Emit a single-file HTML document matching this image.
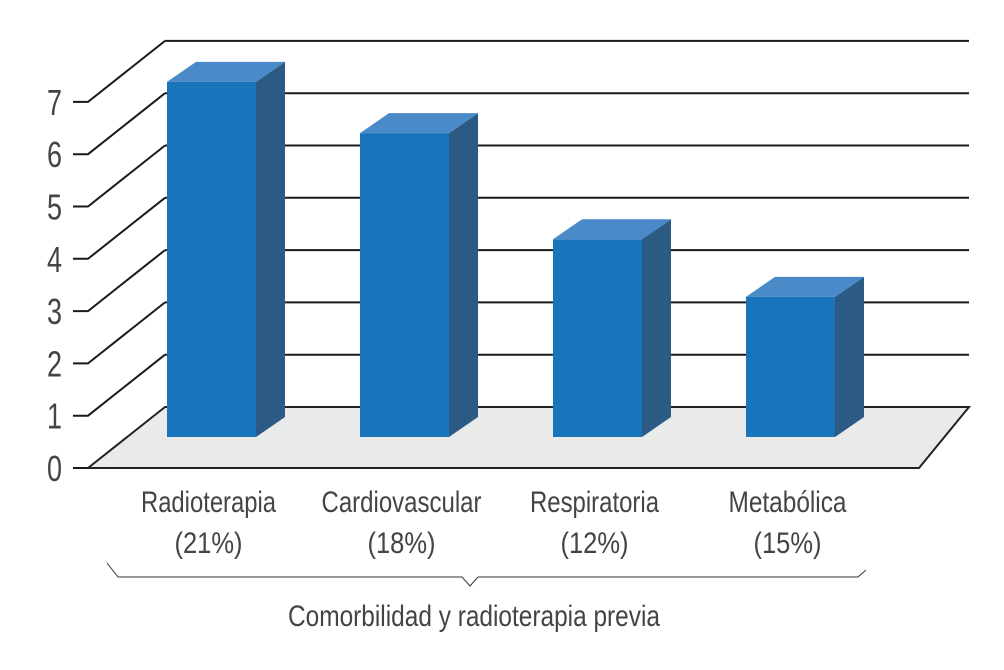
<!DOCTYPE html>
<html><head><meta charset="utf-8">
<style>
html,body{margin:0;padding:0;background:#fff;}
svg{display:block;}
text{font-family:"Liberation Sans Narrow","Liberation Sans",sans-serif;fill:#444;}
</style></head>
<body>
<svg id="chart" width="1004" height="670" viewBox="0 0 1004 670" xmlns="http://www.w3.org/2000/svg">
  <g id="floor"></g>
  <g id="grid"></g>
  <g id="ticks"></g>
  <g id="bars"></g>
  <g id="labels"></g>
  <path d="M107,563 L118,577 L462,577 L470,586 L478,577 L858,577 L866,570" fill="none" stroke="#333" stroke-width="1"/>
  <text x="474" y="626" text-anchor="middle" font-size="30" textLength="372" lengthAdjust="spacingAndGlyphs">Comorbilidad y radioterapia previa</text>
</svg>
<script>
const categories = ["Radioterapia", "Cardiovascular", "Respiratoria", "Metabólica"];
const percents = ["(21%)", "(18%)", "(12%)", "(15%)"];
const values = [6.79, 5.81, 3.78, 2.68];
const tickLabels = ["0","1","2","3","4","5","6","7"];

const NS = "http://www.w3.org/2000/svg";
const unit = 52.3;
const backZero = 407, frontZero = 468, midZero = 437;
const backLeft = 165, backRight = 969, frontLeft = 88, frontRight = 919;
function yBack(v){ return backZero - v*unit; }
function yMid(v){ return midZero - v*unit; }
function yFront(v){ return frontZero - v*unit; }
const barStart = 167, barStep = 193, barW = 89, sdx = 29, sdy = -20;
function xBar(i){ return barStart + i*barStep; }

function mk(tag, attrs, parent){
  const el = document.createElementNS(NS, tag);
  for (const k in attrs) el.setAttribute(k, attrs[k]);
  parent.appendChild(el);
  return el;
}

const floor = document.getElementById('floor');
const f = mk('polygon', {points: `${frontLeft},${frontZero} ${backLeft},${backZero} ${backRight},${backZero} ${frontRight},${frontZero}`, fill:'#e9eaea', stroke:'#222', 'stroke-width':2}, floor);



const grid = document.getElementById('grid');
const ticks = document.getElementById('ticks');
tickLabels.forEach((t, i) => {
  const v = +t;
  if (v > 0) {
    const g = mk('line', {x1: backLeft, y1: yBack(v), x2: backRight, y2: yBack(v), stroke:'#1a1a1a', 'stroke-width':2}, grid);
    
    
    const d = mk('polyline', {points: `73,${yFront(v)} ${frontLeft},${yFront(v)} ${backLeft},${yBack(v)}`, fill:'none', stroke:'#1a1a1a', 'stroke-width':2}, ticks);
    
    
  } else {
    const d = mk('line', {x1: 73, y1: frontZero, x2: frontLeft, y2: frontZero, stroke:'#1a1a1a', 'stroke-width':2}, ticks);
    
    
  }
  const tx = mk('text', {x: 62, y: yFront(v) + 13, 'text-anchor':'end', 'font-size': 36, textLength: 15, lengthAdjust:'spacingAndGlyphs'}, ticks);
  tx.textContent = t;
  
  
});

const bars = document.getElementById('bars');
values.forEach((v, i) => {
  const x = xBar(i), top = yMid(v), bot = midZero;
  const g = mk('g', {}, bars);
  
  
  mk('polygon', {points: `${x+barW},${top} ${x+barW+sdx},${top+sdy} ${x+barW+sdx},${bot+sdy} ${x+barW},${bot}`, fill:'#2b5a85'}, g);
  mk('polygon', {points: `${x},${top} ${x+sdx},${top+sdy} ${x+barW+sdx},${top+sdy} ${x+barW},${top}`, fill:'#4a8ac8'}, g);
  mk('rect', {x: x, y: top, width: barW, height: bot - top, fill:'#1874bb'}, g);
});

const labels = document.getElementById('labels');
const widths = [135, 160, 129, 118];
categories.forEach((c, i) => {
  const cx = xBar(i) + barW/2 - 3;
  const t1 = mk('text', {x: cx, y: 512, 'text-anchor':'middle', 'font-size': 30, textLength: widths[i], lengthAdjust:'spacingAndGlyphs'}, labels);
  t1.textContent = c;
  
  
  const t2 = mk('text', {x: cx, y: 553, 'text-anchor':'middle', 'font-size': 30, textLength: 68, lengthAdjust:'spacingAndGlyphs'}, labels);
  t2.textContent = percents[i];
  
  
});
</script>
</body></html>
